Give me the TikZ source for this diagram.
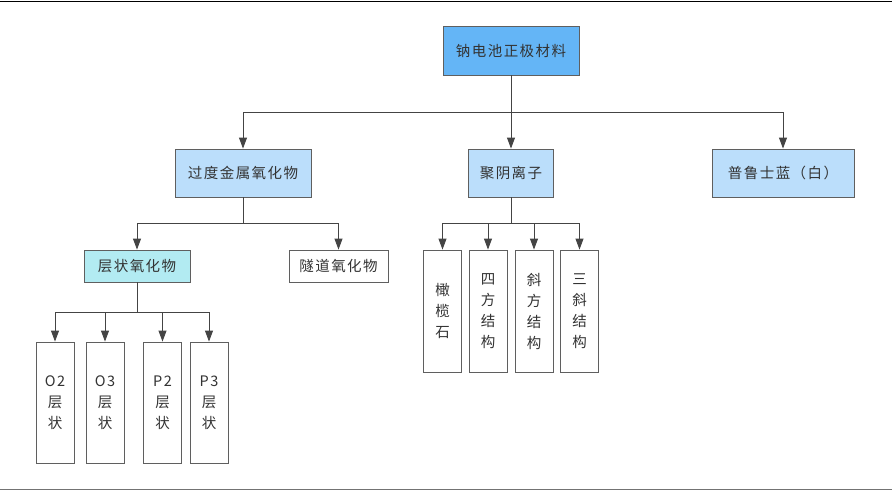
\documentclass[tikz,border=0pt]{standalone}
\usepackage{fontspec}
\setmainfont[LetterSpace=10]{Noto Sans CJK SC}
\usepackage{xcolor}
\usepackage{tikz}
\usetikzlibrary{arrows.meta}
\definecolor{edge}{HTML}{5F5F5F}
\definecolor{wire}{HTML}{444444}
\definecolor{rootblue}{HTML}{64B5F6}
\definecolor{midblue}{HTML}{BBDEFB}
\definecolor{layercyan}{HTML}{B2EBF2}
\begin{document}
\begin{tikzpicture}[
    x=1pt, y=-1pt,
    font=\fontsize{14.5}{21}\selectfont,
    cat/.style={draw=edge, line width=0.9pt, fill=#1, text=black!80,
                minimum height=48pt, inner sep=0pt},
    leaf/.style={draw=edge, line width=0.9pt, fill=white, text=black!80,
                 minimum width=38pt, inner sep=0pt, align=center},
    flow/.style={-{Triangle[length=11pt, width=8pt]}, draw=wire, line width=0.9pt},
    link/.style={draw=wire, line width=0.9pt},
  ]
  \useasboundingbox (0,0) rectangle (892,493);
  \draw[black, line width=1.5pt] (0,1.5) -- (892,1.5);
  \draw[black!55, line width=1.5pt] (0,489.5) -- (892,489.5);
  % first level
  \node[cat=rootblue, minimum width=136pt, minimum height=49pt] (root) at (511,50.5) {钠电池正极材料};
  \coordinate (rootfork) at (511,112);
  \draw[link] (root) -- (rootfork);
  \node[cat=midblue, minimum width=136pt] (oxide) at (243,173) {过度金属氧化物};
  \draw[flow] (rootfork) -| (oxide);
  \node[cat=midblue, minimum width=85pt] (poly) at (511,173) {聚阴离子};
  \draw[flow] (rootfork) -- (poly);
  \node[cat=midblue, minimum width=142pt] (prussian) at (783,173) {普鲁士蓝（白）};
  \draw[flow] (rootfork) -| (prussian);
  % transition metal oxides
  \coordinate (oxidefork) at (243,223);
  \draw[link] (oxide) -- (oxidefork);
  \node[cat=layercyan, minimum width=106pt, minimum height=32pt] (layered) at (137,266) {层状氧化物};
  \draw[flow] (oxidefork) -| (layered);
  \node[cat=white, minimum width=99pt, minimum height=32pt] (tunnel) at (338.5,266) {隧道氧化物};
  \draw[flow] (oxidefork) -| (tunnel);
  % layered phases
  \coordinate (layerfork) at (137,312);
  \draw[link] (layered) -- (layerfork);
  \node[leaf, minimum height=121pt] (otwo) at (55,402.5) {O2\\层\\状};
  \draw[flow] (layerfork) -| (otwo);
  \node[leaf, minimum height=121pt] (othree) at (105,402.5) {O3\\层\\状};
  \draw[flow] (layerfork) -| (othree);
  \node[leaf, minimum height=121pt] (ptwo) at (162.5,402.5) {P2\\层\\状};
  \draw[flow] (layerfork) -| (ptwo);
  \node[leaf, minimum height=121pt] (pthree) at (209,402.5) {P3\\层\\状};
  \draw[flow] (layerfork) -| (pthree);
  % polyanions
  \coordinate (polyfork) at (511,223);
  \draw[link] (poly) -- (polyfork);
  \node[leaf, minimum height=122pt] (olivine) at (442.5,311) {橄\\榄\\石};
  \draw[flow] (polyfork) -| (olivine);
  \node[leaf, minimum height=122pt] (tetra) at (488,311) {四\\方\\结\\构};
  \draw[flow] (polyfork) -| (tetra);
  \node[leaf, minimum height=122pt] (ortho) at (534,311) {斜\\方\\结\\构};
  \draw[flow] (polyfork) -| (ortho);
  \node[leaf, minimum height=122pt] (tricl) at (579.5,311) {三\\斜\\结\\构};
  \draw[flow] (polyfork) -| (tricl);
\end{tikzpicture}
\end{document}
